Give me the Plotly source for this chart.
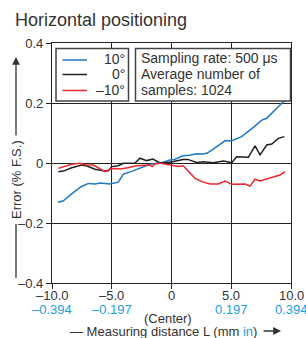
import plotly.graph_objects as go

# ---- data ----
x_blue = [-9.5, -9.05, -8.22, -7.6, -6.96, -6.4, -5.98, -5.15, -4.45, -4.03, -3.33, -2.64, -1.8, -1.24, -0.96, -0.13, 0.25, 0.95, 1.5, 2.1, 2.66, 3.0, 3.5, 4.48, 5.04, 5.87, 6.85, 7.55, 7.97, 8.66, 9.22, 9.5]
y_blue = [-0.131, -0.126, -0.099, -0.08, -0.068, -0.07, -0.067, -0.07, -0.064, -0.037, -0.028, -0.018, -0.004, -0.001, -0.001, 0.01, 0.012, 0.024, 0.026, 0.031, 0.03, 0.033, 0.046, 0.074, 0.074, 0.088, 0.119, 0.143, 0.149, 0.177, 0.199, 0.21]

x_black = [-9.47, -9.05, -8.35, -7.5, -7.08, -6.4, -5.7, -5.28, -5.0, -4.45, -4.03, -3.05, -2.64, -2.08, -1.56, -1.0, -0.45, 0.1, 0.95, 1.37, 2.1, 2.66, 3.5, 4.34, 5.04, 5.45, 6.43, 6.99, 7.41, 7.97, 8.39, 8.94, 9.44]
y_black = [-0.029, -0.027, -0.016, -0.007, -0.01, -0.021, -0.026, -0.026, -0.012, -0.009, -0.001, 0.0, 0.016, 0.008, 0.013, 0.001, 0.001, 0.004, 0.012, 0.012, 0.002, 0.004, 0.001, 0.007, 0.001, 0.021, 0.019, 0.057, 0.027, 0.06, 0.063, 0.082, 0.088]

x_red = [-9.47, -8.91, -8.35, -7.66, -7.1, -6.54, -5.98, -5.56, -5.15, -4.73, -4.3, -3.65, -2.95, -2.4, -1.84, -1.6, -1.42, -1.0, -0.6, 0.0, 0.56, 0.98, 1.4, 1.97, 2.53, 3.22, 3.92, 4.48, 5.04, 5.6, 6.15, 6.57, 6.99, 7.41, 7.97, 8.52, 9.08, 9.5]
y_red = [-0.018, -0.012, -0.004, -0.001, -0.007, -0.007, -0.02, -0.029, -0.02, -0.018, -0.02, -0.016, -0.009, -0.007, -0.007, -0.012, -0.004, 0.0, -0.003, -0.007, -0.012, -0.009, -0.026, -0.051, -0.062, -0.07, -0.07, -0.06, -0.071, -0.071, -0.07, -0.077, -0.054, -0.06, -0.054, -0.046, -0.04, -0.029]

series_names = ["10°", "0°", "–10°"]
series_colors = ["#1f78c8", "#231f20", "#ee2630"]

x_ticks = [-10, -5, 0, 5, 10]
x_ticklabels = ["–10.0", "–5.0", "0", "5.0", "10.0"]
x_inch_ticks = [-10, -5, 5, 10]
x_inch_labels = ["–0.394", "–0.197", "0.197", "0.394"]
y_ticks = [-0.4, -0.2, 0, 0.2, 0.4]
y_ticklabels = ["–0.4", "–0.2", "0", "0.2", "0.4"]

info_lines = ["Sampling rate: 500 μs", "Average number of", "samples: 1024"]

# ---- layout geometry (pixels) ----
W, H = 306, 338
L, R, T, B = 52, 15, 43, 55
PW, PH = W - L - R, H - T - B
FONT = "Liberation Sans, Arial, sans-serif"
BLUE_TXT = "#1aa0e6"
GRAY = "#333333"


def px(x):
    return (x - L) / PW


def py(y):
    return (H - B - y) / PH


fig = go.Figure()
for xs, ys, c, n in zip([x_blue, x_black, x_red], [y_blue, y_black, y_red], series_colors, series_names):
    fig.add_trace(go.Scatter(x=xs, y=ys, mode="lines", name=n,
                             line=dict(color=c, width=1.5), showlegend=False))

shapes = []
annotations = []

# legend box and info box
for (x0, x1) in [(56, 128.5), (135.5, 290.5)]:
    shapes.append(dict(type="rect", xref="paper", yref="paper", layer="above",
                       x0=px(x0), x1=px(x1), y0=py(101), y1=py(48.5),
                       fillcolor="white", line=dict(color="#444444", width=1.5)))
leg_y = [60, 74.5, 90.5]
for yy, c, n in zip(leg_y, series_colors, series_names):
    shapes.append(dict(type="line", xref="paper", yref="paper", layer="above",
                       x0=px(62.5), x1=px(87), y0=py(yy), y1=py(yy),
                       line=dict(color=c, width=1.5)))
    annotations.append(dict(text=n, xref="paper", yref="paper", x=px(126.5), y=py(yy - 1),
                            xanchor="right", yanchor="middle", showarrow=False,
                            font=dict(size=14, color=GRAY, family=FONT)))
for yy, t in zip([58, 73.5, 89.5], info_lines):
    annotations.append(dict(text=t, xref="paper", yref="paper", x=px(139), y=py(yy),
                            xanchor="left", yanchor="middle", showarrow=False,
                            font=dict(size=14, color=GRAY, family=FONT)))

# x tick labels (mm) and inch labels
for xv, t in zip(x_ticks, x_ticklabels):
    annotations.append(dict(text=t, x=xv, xref="x", yref="paper", y=py(295),
                            xanchor="center", yanchor="middle", showarrow=False,
                            font=dict(size=13, color=GRAY, family=FONT)))
for xv, t in zip(x_inch_ticks, x_inch_labels):
    annotations.append(dict(text=t, x=xv, xref="x", yref="paper", y=py(309),
                            xanchor="center", yanchor="middle", showarrow=False,
                            font=dict(size=13, color=BLUE_TXT, family=FONT)))
annotations.append(dict(text="(Center)", x=-0.3, xref="x", yref="paper", y=py(318),
                        xanchor="center", yanchor="middle", showarrow=False,
                        font=dict(size=13, color=GRAY, family=FONT)))
# x axis title
annotations.append(dict(text="— Measuring distance L (mm <span style='color:%s'>in</span>)" % BLUE_TXT,
                        xref="paper", yref="paper", x=px(68), y=py(331),
                        xanchor="left", yanchor="middle", showarrow=False,
                        font=dict(size=13, color=GRAY, family=FONT)))
annotations.append(dict(text="", xref="paper", yref="paper", axref="pixel", ayref="pixel",
                        x=px(281), y=py(331), ax=-19, ay=0, showarrow=True,
                        arrowhead=2, arrowsize=1.2, arrowwidth=1.3, arrowcolor=GRAY))
# y axis title
annotations.append(dict(text="Error (% F.S.)", xref="paper", yref="paper", x=px(16), y=py(180),
                        textangle=-90, xanchor="center", yanchor="middle", showarrow=False,
                        font=dict(size=13, color=GRAY, family=FONT)))
annotations.append(dict(text="", xref="paper", yref="paper", axref="pixel", ayref="pixel",
                        x=px(16), y=py(57), ax=0, ay=80, showarrow=True,
                        arrowhead=2, arrowsize=1.2, arrowwidth=1.3, arrowcolor=GRAY))
shapes.append(dict(type="line", xref="paper", yref="paper", x0=px(16), x1=px(16),
                   y0=py(224), y1=py(278), line=dict(color=GRAY, width=1.3)))

fig.update_layout(
    width=W, height=H, margin=dict(l=L, r=R, t=T, b=B, autoexpand=False),
    paper_bgcolor="white", plot_bgcolor="white",
    title=dict(text="Horizontal positioning", x=15 / W, xref="container", xanchor="left",
               y=1 - 20 / H, yref="container", yanchor="middle",
               font=dict(size=18, color=GRAY, family=FONT)),
    shapes=shapes, annotations=annotations, showlegend=False,
)
fig.update_xaxes(range=[-10, 10], tickvals=x_ticks, showticklabels=False, automargin=False,
                 showline=True, mirror=True, linecolor="#222", linewidth=1.3,
                 showgrid=True, gridcolor="#222", gridwidth=1.1, zeroline=False,
                 ticks="outside", ticklen=5, tickcolor="#222")
fig.update_yaxes(range=[-0.4, 0.4], tickvals=y_ticks, ticktext=y_ticklabels, automargin=False,
                 showline=True, mirror=True, linecolor="#222", linewidth=1.3,
                 showgrid=True, gridcolor="#222", gridwidth=1.1, zeroline=False,
                 ticks="outside", ticklen=5, tickcolor="#222",
                 tickfont=dict(size=13, color=GRAY, family=FONT))

fig.write_html("out.html", config={"displayModeBar": False},
               post_script="document.body.style.margin='0';document.body.style.overflow='hidden';")
